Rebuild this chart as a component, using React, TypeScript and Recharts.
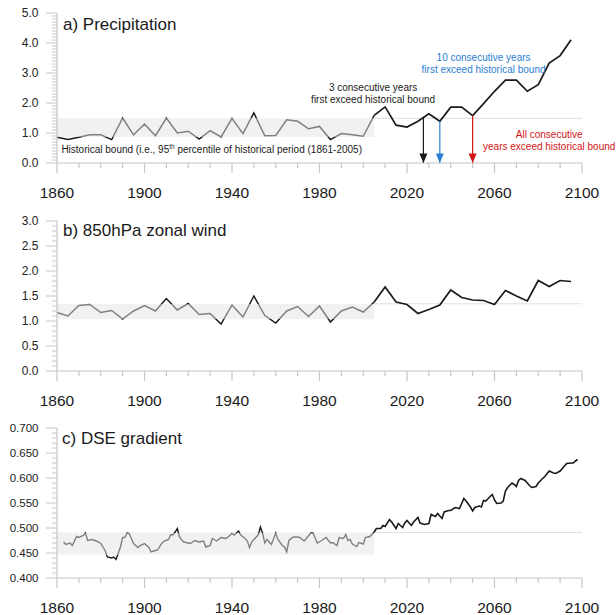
import React from "react";
import { LineChart, Line, XAxis, YAxis, ReferenceArea, ReferenceLine, ReferenceDot } from "recharts";

const FONT = '"Liberation Sans", Arial, Helvetica, sans-serif';
const AXIS = "#c6c6c6";
const BAND = "#f1f1f1";
const BAND_EDGE = "#e2e2e2";
const GRAY = "#808080";
const INK = "#1a1a1a";
const BLUE = "#2a80d2";
const RED = "#d01515";

// shared x axis (years)
const yearTicks = [
  1860, 1870, 1880, 1890, 1900, 1910, 1920, 1930, 1940, 1950, 1960, 1970, 1980,
  1990, 2000, 2010, 2020, 2030, 2040, 2050, 2060, 2070, 2080, 2090, 2100,
];
const yearLabels = [1860, 1900, 1940, 1980, 2020, 2060, 2100];
const histEnd = 2005;

// a) precipitation (5-year steps)
const precipYears = [
  1860, 1865, 1870, 1875, 1880, 1885, 1890, 1895, 1900, 1905, 1910, 1915,
  1920, 1925, 1930, 1935, 1940, 1945, 1950, 1955, 1960, 1965, 1970, 1975,
  1980, 1985, 1990, 1995, 2000, 2005, 2010, 2015, 2020, 2025, 2030, 2035,
  2040, 2045, 2050, 2055, 2060, 2065, 2070, 2075, 2080, 2085, 2090, 2095,
];
const precipValues = [
  0.86, 0.78, 0.86, 0.94, 0.94, 0.78, 1.5, 0.94, 1.3, 0.91, 1.5, 1.0,
  1.06, 0.8, 1.08, 0.87, 1.49, 0.98, 1.67, 0.91, 0.92, 1.44, 1.39, 1.14,
  1.22, 0.78, 0.98, 0.94, 0.89, 1.59, 1.87, 1.26, 1.2, 1.39, 1.64, 1.39,
  1.86, 1.86, 1.58, 1.98, 2.39, 2.76, 2.76, 2.39, 2.61, 3.33, 3.58, 4.11,
];
const precipBand = [0.87, 1.49];
const precipLabels = [0, 1, 2, 3, 4, 5];

// exceedance arrows in panel a: black, blue, red
const arrowYears = [2027.5, 2035, 2050];
const arrowTops = [1.51, 1.39, 1.58];
const arrowColors = [INK, BLUE, RED];

// b) 850hPa zonal wind (5-year steps)
const windYears = precipYears;
const windValues = [
  1.17, 1.1, 1.31, 1.33, 1.17, 1.21, 1.04, 1.2, 1.31, 1.2, 1.45, 1.22,
  1.35, 1.13, 1.15, 0.94, 1.32, 1.08, 1.5, 1.11, 0.96, 1.2, 1.29, 1.09,
  1.3, 0.98, 1.2, 1.28, 1.18, 1.38, 1.68, 1.38, 1.33, 1.15, 1.23, 1.32,
  1.62, 1.47, 1.42, 1.41, 1.33, 1.61, 1.5, 1.4, 1.81, 1.69, 1.81, 1.79,
];
const windBand = [1.035, 1.345];
const windLabels = [0, 0.5, 1, 1.5, 2, 2.5, 3];

// c) DSE gradient (near-annual)
const dseYears = [
  1863, 1864, 1866, 1867, 1869,
  1870, 1872, 1873, 1874, 1876, 1878,
  1880, 1882, 1883, 1885, 1886, 1887, 1889,
  1890, 1891, 1892, 1893, 1895, 1897, 1898,
  1900, 1902, 1903, 1905, 1906, 1908, 1909,
  1911, 1912, 1913, 1914, 1915, 1916, 1917, 1918,
  1921, 1922, 1923, 1925, 1927, 1928,
  1930, 1931, 1933, 1935, 1937, 1938,
  1940, 1941, 1943, 1944, 1946, 1947, 1948, 1949,
  1950, 1952, 1953, 1954, 1955, 1956, 1957, 1958,
  1960, 1961, 1963, 1964, 1965, 1966, 1968,
  1970, 1971, 1973, 1974, 1976, 1977, 1978, 1979,
  1981, 1983, 1985, 1986, 1988, 1989,
  1991, 1992, 1993, 1994, 1995, 1997, 1998,
  2000, 2001, 2003, 2005, 2006, 2008, 2009,
  2010, 2012, 2013, 2015, 2016, 2018, 2019,
  2020, 2022, 2023, 2025, 2026, 2028,
  2030, 2031, 2033, 2034, 2036, 2037, 2039,
  2040, 2042, 2044, 2045, 2046, 2047, 2049,
  2050, 2051, 2053, 2054, 2055, 2056, 2058, 2059,
  2060, 2061, 2063, 2064, 2065, 2066, 2068, 2069,
  2070, 2071, 2072, 2074, 2075, 2076, 2077, 2079,
  2080, 2082, 2083, 2085, 2086, 2087, 2088,
  2090, 2091, 2093, 2095, 2096, 2097, 2098,
];
const dseValues = [
  0.472, 0.467, 0.47, 0.465, 0.483,
  0.481, 0.485, 0.49, 0.475, 0.477, 0.474,
  0.469, 0.455, 0.442, 0.44, 0.442, 0.437, 0.462,
  0.481, 0.481, 0.49, 0.489, 0.469, 0.461, 0.465,
  0.469, 0.461, 0.452, 0.455, 0.456, 0.47, 0.474,
  0.477, 0.487, 0.486, 0.492, 0.499, 0.482, 0.476, 0.472,
  0.469, 0.472, 0.475, 0.472, 0.474, 0.462,
  0.465, 0.479, 0.474, 0.481, 0.479, 0.481,
  0.489, 0.486, 0.494, 0.486, 0.479, 0.474, 0.461, 0.472,
  0.477, 0.486, 0.502, 0.489, 0.47, 0.477, 0.472, 0.467,
  0.49, 0.477, 0.465, 0.462, 0.452, 0.475, 0.482,
  0.482, 0.481, 0.474, 0.479, 0.49, 0.49, 0.48, 0.47,
  0.475, 0.481, 0.47, 0.471, 0.465, 0.481,
  0.479, 0.487, 0.475, 0.477, 0.468, 0.463, 0.471,
  0.468, 0.481, 0.483, 0.492, 0.499, 0.499, 0.505,
  0.503, 0.517, 0.512, 0.499, 0.509, 0.501, 0.51,
  0.515, 0.505, 0.512, 0.521, 0.51, 0.507,
  0.509, 0.527, 0.523, 0.529, 0.519, 0.532, 0.535,
  0.535, 0.541, 0.539, 0.549, 0.559, 0.554, 0.542,
  0.534, 0.541, 0.544, 0.542, 0.555, 0.554, 0.563, 0.567,
  0.556, 0.549, 0.55, 0.554, 0.574, 0.581, 0.59, 0.587,
  0.583, 0.595, 0.599, 0.595, 0.59, 0.585, 0.581, 0.583,
  0.59, 0.599, 0.603, 0.614, 0.612, 0.61, 0.609,
  0.614, 0.619, 0.629, 0.63, 0.63, 0.634, 0.637,
];
const dseBand = [0.447, 0.491];
const dseLabels = [0.4, 0.45, 0.5, 0.55, 0.6, 0.65, 0.7];

// minor ticks between the labelled ones
function fillTicks(labels: number[], step: number) {
  const out: number[] = [];
  const n = Math.round((labels[labels.length - 1] - labels[0]) / step);
  for (let i = 0; i <= n; i++) out.push(Math.round((labels[0] + i * step) * 1000) / 1000);
  return out;
}

function buildRows(years: number[], values: number[]) {
  return years.map((year, i) => ({
    year,
    hist: year <= histEnd ? values[i] : null,
    fut: year >= histEnd ? values[i] : null,
  }));
}

const XTick = (p: any) => {
  const v = p.payload.value;
  const major = yearLabels.includes(v);
  return (
    <g>
      <line x1={p.x} x2={p.x} y1={p.y} y2={p.y + (major ? 10 : 5)} stroke={AXIS} strokeWidth={1.2} />
      {major && (
        <text x={p.x} y={p.y + 29} textAnchor="middle" dominantBaseline="central" fontSize={15.5} fontFamily={FONT} fill={INK}>
          {v}
        </text>
      )}
    </g>
  );
};

const makeYTick = (labels: number[], digits: number, size: number) => (p: any) => {
  const v = p.payload.value;
  const major = labels.some((l) => Math.abs(l - v) < 1e-6);
  return (
    <g>
      <line x1={p.x - (major ? 11 : 5)} x2={p.x} y1={p.y} y2={p.y} stroke={AXIS} strokeWidth={1} />
      {major && (
        <text x={p.x - 18.5} y={p.y} textAnchor="end" dominantBaseline="central" fontSize={size} fontFamily={FONT} fill="#222">
          {v.toFixed(digits)}
        </text>
      )}
    </g>
  );
};

const Note = (p: any) => (
  <text x={p.cx} y={p.cy} textAnchor={p.anchor || "middle"} fill={p.color} fontSize={10} fontFamily={FONT}>
    {p.lines.map((l: string, i: number) => (
      <tspan key={i} x={p.cx} dy={i === 0 ? 0 : 11.8}>
        {l}
      </tspan>
    ))}
  </text>
);

const Head = (p: any) => (
  <path d={`M${p.cx - 4},${p.cy - 9.5} L${p.cx + 4},${p.cy - 9.5} L${p.cx},${p.cy} Z`} fill={p.color} />
);

type Spec = {
  id: string;
  top: number;
  marginTop: number;
  xAxisHeight: number;
  rows: { year: number; hist: number | null; fut: number | null }[];
  band: number[];
  yLabels: number[];
  yStep: number;
  digits: number;
  yLabelSize: number;
  lineWidth: number;
  extras?: React.ReactNode[];
};

function Panel({ spec }: { spec: Spec }) {
  const histVals = spec.rows.filter((r) => r.hist != null).map((r) => r.hist as number);
  const hi = Math.max(...histVals);
  const lo = Math.min(...histVals);
  const clamp = (v: number) => Math.max(0, Math.min(1, v));
  const oU = clamp((hi - spec.band[1]) / (hi - lo));
  const oL = clamp((hi - spec.band[0]) / (hi - lo));
  const yDomain = [spec.yLabels[0], spec.yLabels[spec.yLabels.length - 1]];
  const gid = `hist-${spec.id}`;

  return (
    <div style={{ position: "absolute", left: 0, top: spec.top }}>
      <LineChart width={616} height={205} data={spec.rows} margin={{ top: spec.marginTop, right: 34, bottom: 0, left: 0 }}>
        <defs>
          <linearGradient id={gid} x1="0" y1="0" x2="0" y2="1">
            <stop offset={0} stopColor={INK} />
            <stop offset={oU} stopColor={INK} />
            <stop offset={oU} stopColor={GRAY} />
            <stop offset={oL} stopColor={GRAY} />
            <stop offset={oL} stopColor={INK} />
            <stop offset={1} stopColor={INK} />
          </linearGradient>
        </defs>
        <XAxis
          dataKey="year"
          type="number"
          domain={[1860, 2100]}
          ticks={yearTicks}
          interval={0}
          height={spec.xAxisHeight}
          tickSize={0}
          tickMargin={0}
          tickLine={false}
          axisLine={{ stroke: AXIS, strokeWidth: 1.2 }}
          tick={XTick}
        />
        <YAxis
          type="number"
          domain={yDomain}
          ticks={fillTicks(spec.yLabels, spec.yStep)}
          interval={0}
          width={57}
          tickSize={0}
          tickMargin={0}
          tickLine={false}
          axisLine={{ stroke: AXIS, strokeWidth: 1.2 }}
          tick={makeYTick(spec.yLabels, spec.digits, spec.yLabelSize)}
        />
        <ReferenceArea x1={1860} x2={histEnd} y1={spec.band[0]} y2={spec.band[1]} fill={BAND} fillOpacity={1} stroke="none" />
        <ReferenceLine segment={[{ x: histEnd, y: spec.band[1] }, { x: 2100, y: spec.band[1] }]} stroke={BAND_EDGE} strokeWidth={1.2} />
        <Line dataKey="hist" type="linear" stroke={`url(#${gid})`} strokeWidth={spec.lineWidth} dot={false} activeDot={false} isAnimationActive={false} />
        <Line dataKey="fut" type="linear" stroke={INK} strokeWidth={spec.lineWidth + 0.2} dot={false} activeDot={false} isAnimationActive={false} />
        {spec.extras}
      </LineChart>
    </div>
  );
}

const precipExtras: React.ReactNode[] = [
  <ReferenceDot
    key="hb"
    x={1862}
    y={0.32}
    r={0}
    ifOverflow="visible"
    shape={(p: any) => (
      <text x={p.cx} y={p.cy} fill={INK} fontSize={10} fontFamily={FONT}>
        Historical bound (i.e., 95
        <tspan fontSize={6.5} dy={-4}>th</tspan>
        <tspan dy={4}> percentile of historical period (1861-2005)</tspan>
      </text>
    )}
  />,
  <ReferenceDot key="n3" x={2004.5} y={2.4} r={0} ifOverflow="visible"
    shape={(p: any) => <Note {...p} color={INK} lines={["3 consecutive years", "first exceed historical bound"]} />} />,
  <ReferenceDot key="n10" x={2055} y={3.41} r={0} ifOverflow="visible"
    shape={(p: any) => <Note {...p} color={BLUE} lines={["10 consecutive years", "first exceed historical bound"]} />} />,
  <ReferenceDot key="nall" x={2085} y={0.82} r={0} ifOverflow="visible"
    shape={(p: any) => <Note {...p} color={RED} lines={["All consecutive", "years exceed historical bound"]} />} />,
  ...arrowYears.map((yr, i) => (
    <ReferenceLine key={`s${i}`} segment={[{ x: yr, y: arrowTops[i] }, { x: yr, y: 0 }]} stroke={arrowColors[i]} strokeWidth={1.2} ifOverflow="visible" />
  )),
  ...arrowYears.map((yr, i) => (
    <ReferenceDot key={`h${i}`} x={yr} y={0} r={0} ifOverflow="visible" shape={(p: any) => <Head {...p} color={arrowColors[i]} />} />
  )),
];

const specs: Spec[] = [
  {
    id: "a", top: 0, marginTop: 13, xAxisHeight: 42,
    rows: buildRows(precipYears, precipValues), band: precipBand,
    yLabels: precipLabels, yStep: 0.1, digits: 1, yLabelSize: 12, lineWidth: 1.5,
    extras: precipExtras,
  },
  {
    id: "b", top: 205, marginTop: 16, xAxisHeight: 39,
    rows: buildRows(windYears, windValues), band: windBand,
    yLabels: windLabels, yStep: 0.1, digits: 1, yLabelSize: 12, lineWidth: 1.5,
  },
  {
    id: "c", top: 410, marginTop: 18, xAxisHeight: 37,
    rows: buildRows(dseYears, dseValues), band: dseBand,
    yLabels: dseLabels, yStep: 0.01, digits: 3, yLabelSize: 11.5, lineWidth: 1.4,
  },
];

const titles = [
  { text: "a) Precipitation", x: 63, y: 29.5 },
  { text: "b) 850hPa zonal wind", x: 63, y: 236 },
  { text: "c) DSE gradient", x: 62, y: 444 },
];

export default function App() {
  return (
    <div style={{ position: "absolute", left: 0, top: 0, width: 616, height: 615, background: "#fff", fontFamily: FONT }}>
      {specs.map((s) => (
        <Panel key={s.id} spec={s} />
      ))}
      <svg width={616} height={615} style={{ position: "absolute", left: 0, top: 0, pointerEvents: "none" }}>
        {titles.map((t) => (
          <text key={t.text} x={t.x} y={t.y} fontSize={17} fontFamily={FONT} fill={INK}>
            {t.text}
          </text>
        ))}
      </svg>
    </div>
  );
}
